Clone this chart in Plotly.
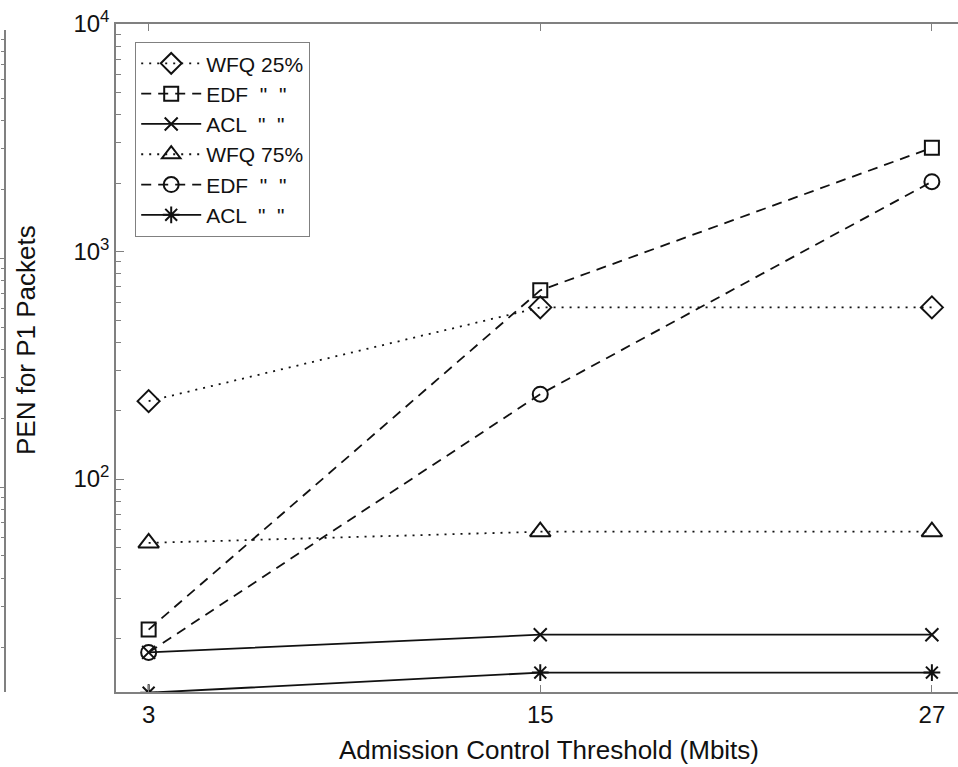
import plotly.graph_objects as go

# ---- data ----
thresholds = [3, 15, 27]
wfq25 = [220, 568, 568]
edf25 = [21.8, 675, 2858]
acl25 = [17.3, 20.7, 20.7]
wfq75 = [52.4, 58.7, 58.7]
edf75 = [17.3, 236, 2028]
acl75 = [11.5, 14.1, 14.1]

series_names = ['WFQ 25%', 'EDF  "  "', 'ACL  "  "', 'WFQ 75%', 'EDF  "  "', 'ACL  "  "']
series_values = [wfq25, edf25, acl25, wfq75, edf75, acl75]
series_symbols = ['diamond-open', 'square-open', 'x-thin-open', 'triangle-up-open', 'circle-open', 'asterisk-open']
series_dash = ['2px,6px', '10px,7px', 'solid', '2px,6px', '10px,7px', 'solid']
series_msize = [17, 14, 13, 18, 15, 14]

x_ticks = [3, 15, 27]
y_major = [10, 100, 1000, 10000]
y_major_text = ['', '10<sup>2</sup>', '10<sup>3</sup>', '10<sup>4</sup>']
y_minor = [m * 10 ** e for e in range(1, 4) for m in range(2, 10)]

W, H = 958, 767
T, B = 24, 75
PH = H - T - B
FONT = 'Liberation Sans, Arial, Helvetica, sans-serif'
INK = '#111111'
AX = '#808080'

fig = go.Figure()
for name, vals, sym, dash, ms in zip(series_names, series_values, series_symbols, series_dash, series_msize):
    fig.add_trace(go.Scatter(
        x=thresholds, y=vals, name=name, mode='lines+markers',
        line=dict(color=INK, width=1.8, dash=dash),
        marker=dict(symbol=sym, size=ms, color=INK, line=dict(color=INK, width=2)),
    ))

# neighbour-panel fragment on the far left (empty axes)
fig.add_trace(go.Scatter(x=[], y=[], xaxis='x2', yaxis='y2', showlegend=False))

fig.update_layout(
    width=W, height=H,
    margin=dict(l=0, r=0, t=T, b=B),
    paper_bgcolor='white', plot_bgcolor='white',
    font=dict(family=FONT, size=24, color=INK),
    showlegend=True,
    legend=dict(x=135 / W, y=(H - B - 42) / PH, xanchor='left', yanchor='top',
                bgcolor='white', bordercolor=AX, borderwidth=1.2,
                font=dict(size=21, family=FONT, color=INK),
                tracegroupgap=0, itemwidth=60),
    xaxis=dict(domain=[116 / W, 1], range=[2, 27.8], tickmode='array', tickvals=x_ticks,
               ticks='inside', ticklen=7, tickcolor=AX, showline=True, linecolor=AX, linewidth=1.5,
               mirror='ticks', showgrid=False, zeroline=False,
               tickfont=dict(size=24, family=FONT, color=INK)),
    yaxis=dict(type='log', range=[1.064, 4.0], tickmode='array', tickvals=y_major, ticktext=y_major_text,
               ticks='inside', ticklen=8, tickcolor=AX, showline=True, linecolor=AX, linewidth=1.5,
               showgrid=False, zeroline=False,
               minor=dict(tickmode='array', tickvals=y_minor, ticks='inside', ticklen=5, tickcolor=AX, showgrid=False),
               tickfont=dict(size=24, family=FONT, color=INK)),
    xaxis2=dict(domain=[0, 0.004], anchor='y2', visible=False, range=[0, 1]),
    yaxis2=dict(domain=[0, (H - B - 30) / PH], anchor='x2', side='right', type='log',
                range=[1.105, 3.996], tickmode='array', tickvals=y_major, showticklabels=False,
                ticks='inside', ticklen=5, tickcolor=AX, showline=True, linecolor=AX, linewidth=1.5,
                showgrid=False, zeroline=False,
                minor=dict(tickmode='array', tickvals=y_minor, ticks='inside', ticklen=3, tickcolor=AX, showgrid=False)),
    annotations=[
        dict(text='Admission Control Threshold (Mbits)', xref='paper', yref='paper',
             x=549 / W, y=(H - B - 750) / PH, xanchor='center', yanchor='middle', showarrow=False,
             font=dict(size=26, family=FONT, color=INK)),
        dict(text='PEN for P1 Packets', xref='paper', yref='paper', textangle=-90,
             x=26 / W, y=(H - B - 340) / PH, xanchor='center', yanchor='middle', showarrow=False,
             font=dict(size=26, family=FONT, color=INK)),
    ],
)

fig.write_html('out.html', config={'displayModeBar': False},
               post_script="document.body.style.margin='0';document.body.style.overflow='hidden';")
